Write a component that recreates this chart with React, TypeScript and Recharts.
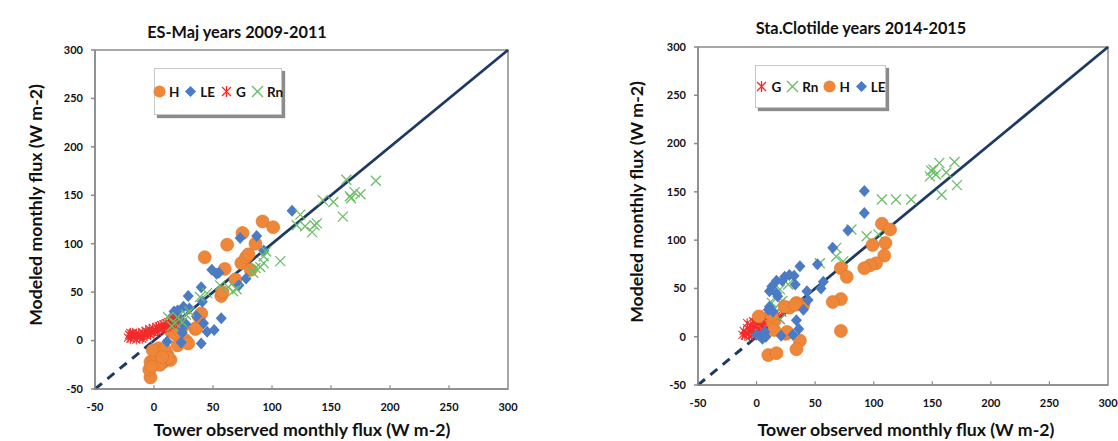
import React from 'react';
import { ScatterChart, Scatter, XAxis, YAxis, ReferenceLine, ReferenceArea } from 'recharts';

type P = [number, number];

const axisTicks = [-50, 0, 50, 100, 150, 200, 250, 300];

const leftTitle = 'ES-Maj years 2009-2011';
const rightTitle = 'Sta.Clotilde years 2014-2015';
const xTitle = 'Tower observed monthly flux (W m-2)';
const yTitle = 'Modeled monthly flux (W m-2)';

const esMajH: P[] = [
  [-3, -38], [-4, -30], [-3, -22], [0, -20], [2, -16], [5, -12], [8, -22], [11, -14], [14, -20], [4, -8],
  [-1, -10], [9, -9], [12, -18], [5, -25], [-2, -27], [7, -17], [14, 10], [18, 7], [20, -5], [27, 0],
  [29, -3], [24, 14], [35, 12], [36, 13], [38, 25], [40, 28], [22, 10], [43, 86], [57, 46], [58, 50],
  [60, 74], [62, 99], [69, 63], [74, 80], [75, 111], [78, 86], [80, 89], [82, 73], [86, 100], [92, 123], [101, 117],
];
const esMajLE: P[] = [
  [11, -1], [23, -2], [40, -3], [23, 14], [17, 30], [25, 35], [29, 46], [40, 55], [41, 40], [42, 18],
  [45, 9], [51, 11], [57, 23], [49, 73], [53, 69], [55, 70], [73, 106], [87, 108], [93, 93], [117, 134],
  [72, 57], [78, 64], [20, 31], [30, 33], [22, 22], [27, 17], [19, 21], [24, 8], [36, 25], [15, 24],
];
const esMajG: P[] = [
  [-22, 3], [-21, 6], [-20, 2], [-19, 5], [-18, 8], [-17, 3], [-16, 6], [-15, 1], [-14, 4], [-13, 7],
  [-12, 3], [-11, 5], [-10, 9], [-9, 4], [-8, 6], [-7, 10], [-6, 5], [-5, 8], [-4, 12], [-3, 6],
  [-2, 9], [-1, 13], [0, 8], [1, 10], [2, 14], [3, 9], [4, 15], [5, 11], [6, 16], [7, 12],
  [8, 17], [9, 13], [10, 18], [11, 14], [12, 19], [13, 16], [14, 20], [15, 17], [16, 22], [17, 18],
  [18, 21], [19, 19], [20, 23], [-20, 8], [-15, 7], [-10, 2], [-6, 9],
];
const esMajRn: P[] = [
  [163, 166], [188, 165], [166, 149], [175, 151], [170, 153], [167, 147], [152, 143], [143, 145], [160, 128], [136, 119],
  [134, 112], [128, 118], [138, 121], [124, 130], [121, 119], [107, 82], [93, 87], [93, 80], [90, 76], [95, 92],
  [84, 70], [86, 75], [67, 51], [63, 55], [70, 53], [56, 57], [45, 49], [39, 45], [27, 27], [20, 24],
  [12, 24], [18, 18], [24, 19], [15, 15], [30, 30],
];

const staG: P[] = [
  [-12, 2], [-11, 6], [-10, 1], [-9, 4], [-8, 9], [-7, 3], [-6, 7], [-5, 12], [-4, 2], [-3, 6],
  [-2, 10], [-1, 15], [0, 4], [1, 8], [2, 13], [3, 18], [4, 6], [5, 11], [6, 16], [7, 9],
  [8, 14], [9, 20], [10, 12], [11, 17], [12, 22], [14, 15], [16, 19], [18, 23], [20, 18], [-8, 14],
  [-3, 16], [0, 19], [5, 22], [22, 25], [-6, 0], [2, 1],
];
const staRn: P[] = [
  [169, 181], [156, 180], [151, 173], [148, 166], [158, 147], [171, 157], [162, 170], [153, 168], [149, 172], [107, 142],
  [119, 142], [132, 142], [94, 104], [104, 106], [81, 111], [68, 92], [68, 83], [74, 78], [54, 76], [27, 54],
  [20, 49], [16, 41], [13, 35], [20, 35], [22, 37], [15, 23], [20, 18], [12, 20],
];
const staH: P[] = [
  [107, 117], [114, 111], [99, 95], [110, 97], [109, 84], [102, 76], [97, 74], [92, 71], [72, 71], [77, 62],
  [72, 39], [65, 36], [40, 33], [34, 35], [28, 30], [24, 31], [2, 21], [14, 14], [15, 7], [13, 22],
  [25, 3], [37, -4], [34, -13], [10, -19], [17, -17], [72, 6], [33, 33], [26, 5],
];
const staLE: P[] = [
  [92, 151], [92, 128], [78, 110], [65, 92], [52, 75], [37, 73], [32, 63], [24, 62], [17, 58], [33, 54],
  [11, 47], [18, 42], [43, 47], [57, 57], [55, 50], [44, 38], [10, 28], [40, 28], [34, 17], [36, 8],
  [13, 52], [17, 45], [11, 31], [14, 26], [0, 2], [5, -2], [7, 5], [21, 1], [31, 2], [8, 0], [22, 58], [28, 64],
];

const C_H = '#EE8739';
const C_LE = '#4A7BC4';
const C_G = '#F22A2A';
const C_RN = '#6CBD69';
const LINE = '#1E3A63';
const AXIS = '#8A8A8A';
const FONT = 'Lato, "Open Sans", sans-serif';

const pts = (a: P[]) => a.map(([x, y]) => ({ x, y }));

const CircleShape = (p: any) => (
  <circle cx={p.cx} cy={p.cy} r={6.5} fill={C_H} stroke="#DD7328" strokeWidth={0.6} />
);
const DiamondShape = (p: any) => (
  <path d={`M${p.cx},${p.cy - 6}L${p.cx + 5.5},${p.cy}L${p.cx},${p.cy + 6}L${p.cx - 5.5},${p.cy}Z`} fill={C_LE} />
);
const XShape = (p: any) => (
  <path
    d={`M${p.cx - 5},${p.cy - 5}L${p.cx + 5},${p.cy + 5}M${p.cx - 5},${p.cy + 5}L${p.cx + 5},${p.cy - 5}`}
    stroke={C_RN}
    strokeWidth={1.3}
    fill="none"
  />
);
const StarShape = (p: any) => (
  <path
    d={`M${p.cx - 4},${p.cy - 4}L${p.cx + 4},${p.cy + 4}M${p.cx - 4},${p.cy + 4}L${p.cx + 4},${p.cy - 4}M${p.cx},${p.cy - 5}L${p.cx},${p.cy + 5}`}
    stroke={C_G}
    strokeWidth={1.1}
    fill="none"
  />
);

const icons: Record<string, React.ReactNode> = {
  H: <circle cx={6.5} cy={6.5} r={6} fill={C_H} />,
  LE: <path d="M6.5,1L12,6.5L6.5,12L1,6.5Z" fill={C_LE} />,
  G: <path d="M2,2L11,11M2,11L11,2M6.5,1L6.5,12" stroke={C_G} strokeWidth={1.3} />,
  Rn: <path d="M1,1L12,12M1,12L12,1" stroke={C_RN} strokeWidth={1.4} />,
};

function LegendBox({ items, left, top, width, height }: { items: string[]; left: number; top: number; width: number; height: number }) {
  return (
    <div
      style={{
        position: 'absolute', left, top, width, height, boxSizing: 'border-box',
        border: '1px solid #c8c8c8', boxShadow: '3px 3px 1px #8c8c8c', background: '#fff',
        display: 'flex', alignItems: 'center', justifyContent: 'center', gap: 5,
        fontFamily: FONT, fontWeight: 700, fontSize: 13.5, color: '#111',
      }}
    >
      {items.map((k) => (
        <span key={k} style={{ display: 'inline-flex', alignItems: 'center', gap: 3 }}>
          <svg width={13} height={13}>{icons[k]}</svg>
          <span>{k}</span>
        </span>
      ))}
    </div>
  );
}

type SeriesDef = { name: string; data: P[] };
const shapes: Record<string, any> = { H: CircleShape, LE: DiamondShape, G: StarShape, Rn: XShape };

function Panel(props: {
  offset: number; width: number; margin: any; yWidth: number; title: string;
  titleX: number; titleY: number; yLabelX: number; yLabelY: number; xLabelX: number; xLabelY: number;
  series: SeriesDef[]; legend: { left: number; top: number; width: number; height: number };
}) {
  const tickStyle = { fill: '#111', fontSize: 11, fontWeight: 700, fontFamily: FONT };
  return (
    <div style={{ position: 'absolute', left: props.offset, top: 0, width: props.width, height: 441 }}>
      <ScatterChart width={props.width} height={441} margin={props.margin}>
        <XAxis
          type="number" dataKey="x" domain={[-50, 300]} ticks={axisTicks} allowDataOverflow
          height={30} stroke={AXIS} strokeWidth={1.5} tickLine={false} tickSize={4} tickMargin={10} tick={tickStyle}
        />
        <YAxis
          type="number" dataKey="y" domain={[-50, 300]} ticks={axisTicks} allowDataOverflow
          width={props.yWidth} stroke={AXIS} strokeWidth={1.5} tickSize={4} tickMargin={8} tick={tickStyle}
        />
        <ReferenceArea x1={-50} x2={300} y1={-50} y2={300} fill="none" stroke={AXIS} strokeWidth={1.5} />
        {axisTicks.slice(1, -1).map((t) => (
          <ReferenceLine key={'t' + t} segment={[{ x: t, y: -50 }, { x: t, y: -46 }]} stroke={AXIS} strokeWidth={1.2} />
        ))}
        {props.series.map((s) => (
          <Scatter key={s.name} name={s.name} data={pts(s.data)} shape={shapes[s.name]} isAnimationActive={false} />
        ))}
        <ReferenceLine segment={[{ x: -50, y: -50 }, { x: -2, y: -2 }]} stroke={LINE} strokeWidth={3} strokeDasharray="9 7" />
        <ReferenceLine segment={[{ x: -2, y: -2 }, { x: 300, y: 300 }]} stroke={LINE} strokeWidth={2.8} />
      </ScatterChart>
      <div style={{ position: 'absolute', left: props.titleX - 200, top: props.titleY - 10, width: 400, lineHeight: '20px', textAlign: 'center', fontFamily: FONT, fontWeight: 700, fontSize: 16.3, color: '#111', whiteSpace: 'nowrap' }}>
        {props.title}
      </div>
      <div style={{ position: 'absolute', left: props.xLabelX - 200, top: props.xLabelY - 11, width: 400, lineHeight: '22px', textAlign: 'center', fontFamily: FONT, fontWeight: 700, fontSize: 17.7, color: '#111', whiteSpace: 'nowrap' }}>
        {xTitle}
      </div>
      <div style={{ position: 'absolute', left: props.yLabelX - 150, top: props.yLabelY - 11, width: 300, lineHeight: '22px', textAlign: 'center', fontFamily: FONT, fontWeight: 700, fontSize: 17.7, color: '#111', whiteSpace: 'nowrap', transform: 'rotate(-90deg)' }}>
        {yTitle}
      </div>
      <LegendBox items={props.series.map((s) => s.name)} {...props.legend} />
    </div>
  );
}

export default function App() {
  return (
    <div style={{ position: 'absolute', left: 0, top: 0, width: 1118, height: 441, background: '#fff', overflow: 'hidden' }}>
      <Panel
        offset={0} width={560} margin={{ top: 50, right: 52, bottom: 22, left: 0 }} yWidth={95}
        title={leftTitle} titleX={237} titleY={32} yLabelX={36} yLabelY={205} xLabelX={302} xLabelY={430}
        series={[{ name: 'H', data: esMajH }, { name: 'LE', data: esMajLE }, { name: 'G', data: esMajG }, { name: 'Rn', data: esMajRn }]}
        legend={{ left: 154, top: 68, width: 128, height: 47 }}
      />
      <Panel
        offset={560} width={558} margin={{ top: 47, right: 10, bottom: 26, left: 0 }} yWidth={138}
        title={rightTitle} titleX={301} titleY={28} yLabelX={77} yLabelY={202} xLabelX={346} xLabelY={430}
        series={[{ name: 'G', data: staG }, { name: 'Rn', data: staRn }, { name: 'H', data: staH }, { name: 'LE', data: staLE }]}
        legend={{ left: 195, top: 65, width: 131, height: 43 }}
      />
    </div>
  );
}
